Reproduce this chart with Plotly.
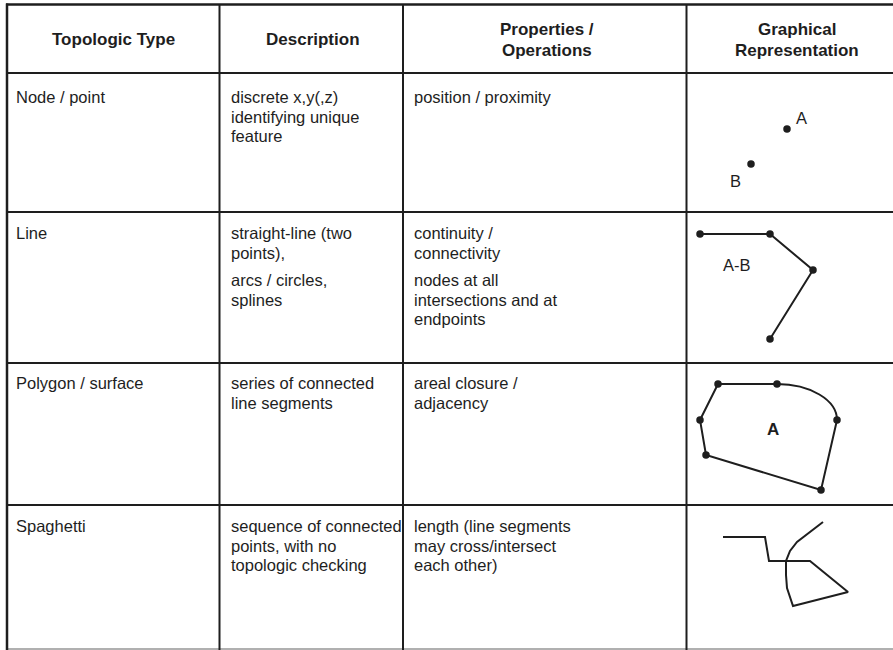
import plotly.graph_objects as go

# ---------------- data ----------------
headers = [["Topologic Type"], ["Description"], ["Properties /", "Operations"],
           ["Graphical", "Representation"]]

col_types = [["Node / point"], ["Line"], ["Polygon / surface"], ["Spaghetti"]]
col_desc = [
    ["discrete x,y(,z)", "identifying unique", "feature"],
    ["straight-line (two", "points),", "", "arcs / circles,", "splines"],
    ["series of connected", "line segments"],
    ["sequence of connected", "points, with no", "topologic checking"],
]
col_props = [
    ["position / proximity"],
    ["continuity /", "connectivity", "", "nodes at all", "intersections and at", "endpoints"],
    ["areal closure /", "adjacency"],
    ["length (line segments", "may cross/intersect", "each other)"],
]

# geometry of the drawings (pixel-like units of the sketch)
node_x = [787, 751]
node_y = [129, 164]
node_labels = ["A", "B"]
node_label_x = [801, 735]
node_label_y = [118, 181]

line_x = [700, 770, 813, 770]
line_y = [234, 234, 270, 339]

poly_x = [777, 718, 700, 706, 821, 837]
poly_y = [384, 384, 420, 455, 490, 420]
poly_arc = ((777, 384), (810, 384), (837, 400), (837, 420))

spag_x = [723, 765, 769, 810, 848, 793, 787, 786, 786, 790, 797, 823]
spag_y = [537, 537, 561, 561, 592, 606, 588, 575, 561, 551, 542, 522]

# table layout
col_edges = [7, 219.5, 403, 686.5]
row_edges = [4.5, 73, 212, 363, 505, 649]
W, H = 893, 650

INK = "#1e1e1e"
FONT = "Liberation Sans, Arial, sans-serif"
BODY = 16.5
HEAD = 17

fig = go.Figure()
shapes = []
annotations = []

# table lines
shapes.append(dict(type="line", x0=6, x1=W, y0=row_edges[0], y1=row_edges[0],
                   line=dict(color=INK, width=2.5)))
for y in row_edges[1:-1]:
    shapes.append(dict(type="line", x0=6, x1=W, y0=y, y1=y, line=dict(color=INK, width=2)))
shapes.append(dict(type="line", x0=6, x1=W, y0=row_edges[-1], y1=row_edges[-1],
                   line=dict(color="#b0b0b0", width=2)))
shapes.append(dict(type="line", x0=col_edges[0], x1=col_edges[0], y0=3.5, y1=H,
                   line=dict(color=INK, width=2.5)))
for x in col_edges[1:]:
    shapes.append(dict(type="line", x0=x, x1=x, y0=4, y1=H, line=dict(color=INK, width=2)))

# header
col_right = col_edges[1:] + [W]
head_cx = [113, 313, 547, 797]
for i, lines in enumerate(headers):
    n = len(lines)
    ys = [39] if n == 1 else [29.5, 50]
    for t, y in zip(lines, ys):
        annotations.append(dict(x=head_cx[i], y=y, text="<b>" + t + "</b>", showarrow=False,
                                xanchor="center", yanchor="middle",
                                font=dict(family=FONT, size=HEAD, color=INK)))

# body
line_step = 19.5
para_gap = 8
row_first = [97, 233, 383, 526]
pads = [14, 229, 412]
for c, column in enumerate([col_types, col_desc, col_props]):
    for r, lines in enumerate(column):
        y = row_first[r]
        for t in lines:
            if t == "":
                y += para_gap
                continue
            annotations.append(dict(x=pads[c], y=y, text=t, showarrow=False,
                                    xanchor="left", yanchor="middle",
                                    font=dict(family=FONT, size=BODY, color=INK)))
            y += line_step

# drawings
fig.add_trace(go.Scatter(x=node_x, y=node_y, mode="markers",
                         marker=dict(size=7.5, color=INK)))
for t, x, y in zip(node_labels, node_label_x, node_label_y):
    annotations.append(dict(x=x, y=y, text=t, showarrow=False, xanchor="center",
                            yanchor="middle", font=dict(family=FONT, size=BODY, color=INK)))

fig.add_trace(go.Scatter(x=line_x, y=line_y, mode="lines+markers",
                         line=dict(color=INK, width=2), marker=dict(size=7.5, color=INK)))
annotations.append(dict(x=737, y=265, text="A-B", showarrow=False, xanchor="center",
                        yanchor="middle", font=dict(family=FONT, size=BODY, color=INK)))

p0, p1, p2, p3 = poly_arc
shapes.append(dict(type="path",
                   path=f"M {p0[0]},{p0[1]} C {p1[0]},{p1[1]} {p2[0]},{p2[1]} {p3[0]},{p3[1]}",
                   line=dict(color=INK, width=2)))
fig.add_trace(go.Scatter(x=poly_x, y=poly_y, mode="lines",
                         line=dict(color=INK, width=2)))
fig.add_trace(go.Scatter(x=poly_x, y=poly_y, mode="markers",
                         marker=dict(size=7.5, color=INK)))
annotations.append(dict(x=773, y=429, text="<b>A</b>", showarrow=False, xanchor="center",
                        yanchor="middle", font=dict(family=FONT, size=17, color=INK)))

fig.add_trace(go.Scatter(x=spag_x, y=spag_y, mode="lines",
                         line=dict(color=INK, width=2)))

fig.update_layout(
    width=W, height=H, margin=dict(l=0, r=0, t=0, b=0),
    paper_bgcolor="white", plot_bgcolor="white", showlegend=False,
    hovermode=False,
    xaxis=dict(range=[0, W], visible=False, fixedrange=True),
    yaxis=dict(range=[H, 0], visible=False, fixedrange=True),
    shapes=shapes, annotations=annotations,
)
fig.write_html("out.html", config={"displayModeBar": False},
               post_script="document.body.style.margin='0';document.body.style.overflow='hidden';")
